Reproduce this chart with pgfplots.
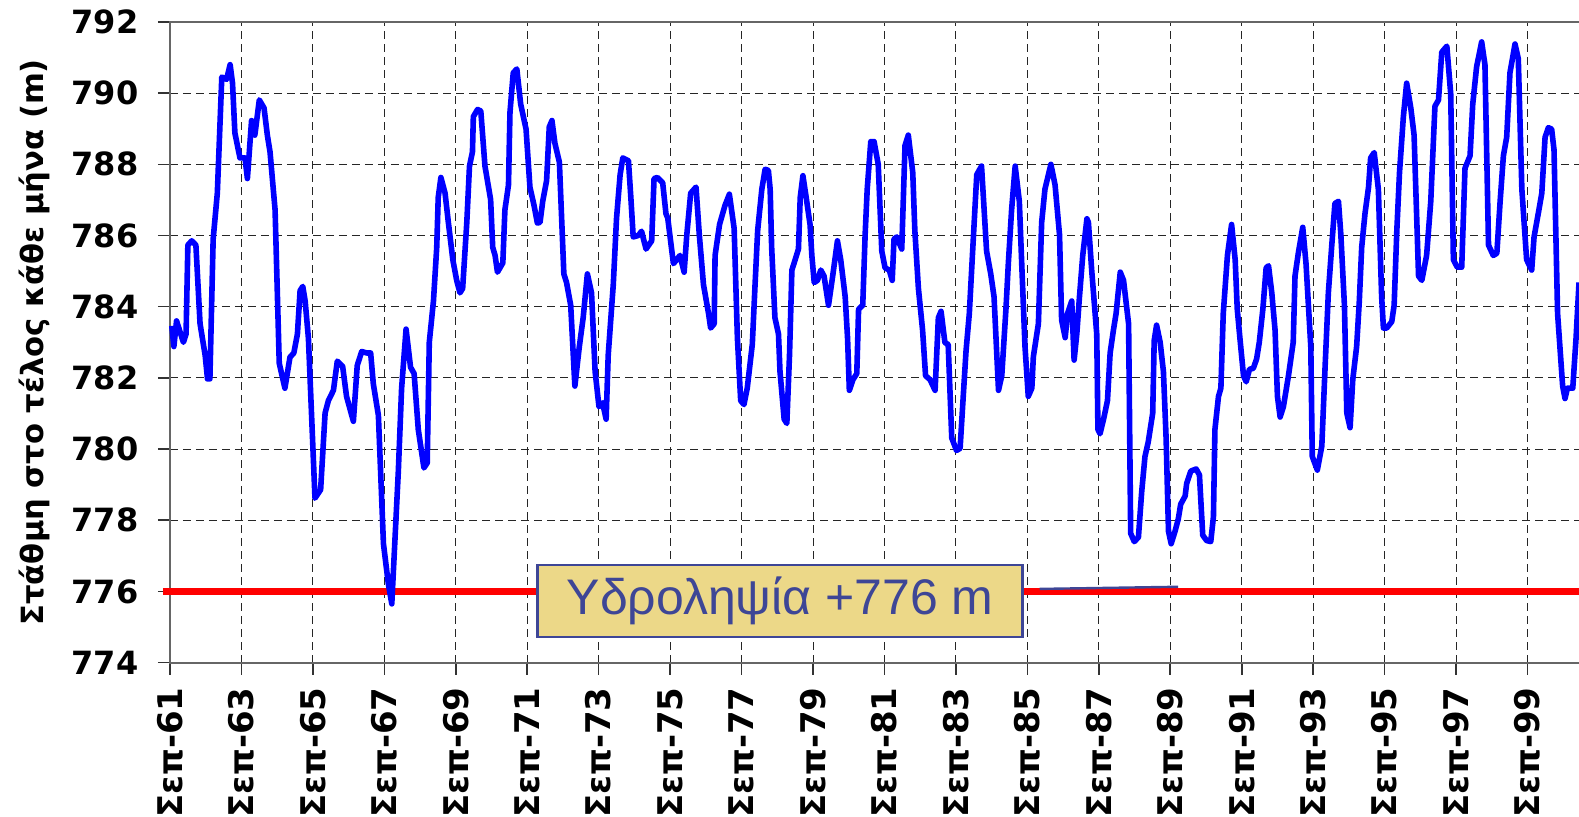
\documentclass[border=0pt]{standalone}
\usepackage{fontspec}
\setmainfont{DejaVu Sans}
\newfontfamily\boxfont{Liberation Sans}
\usepackage{pgfplots}
\usepackage{pgfplotstable}
\pgfplotsset{compat=1.18}
\definecolor{levelblue}{RGB}{0,0,255}
\definecolor{intakered}{RGB}{255,0,0}
\definecolor{boxfill}{RGB}{236,216,136}
\definecolor{boxline}{RGB}{62,70,150}

% month index from Sep-61, level at end of month (m)
\pgfplotstableread{
m v
0.6 783.46
1.3 782.88
2.2 783.60
4.5 783.00
5.4 783.23
6.0 785.73
7.3 785.85
8.7 785.73
10.1 783.52
11.8 782.64
12.6 781.97
13.4 781.97
14.5 785.90
15.9 787.19
17.4 790.45
19.0 790.39
20.2 790.80
21.0 790.28
21.8 788.88
23.5 788.18
25.2 788.18
26.0 787.60
27.4 789.23
28.5 788.82
30.0 789.81
31.6 789.58
32.7 788.82
33.6 788.35
35.3 786.72
36.7 782.41
38.6 781.71
40.3 782.58
41.6 782.70
42.8 783.23
43.7 784.45
44.6 784.57
45.4 784.16
46.5 783.11
48.7 778.62
50.6 778.86
52.1 781.01
53.2 781.36
54.9 781.65
56.2 782.47
58.0 782.32
59.3 781.48
61.6 780.78
62.9 782.35
64.4 782.74
66.1 782.70
67.4 782.70
68.3 781.83
70.0 780.95
71.7 777.34
73.3 776.24
74.5 775.65
76.7 779.38
77.8 781.71
79.3 783.37
80.8 782.30
82.0 782.12
83.4 780.55
85.3 779.47
86.4 779.61
87.1 783.00
88.5 784.16
89.6 785.67
90.1 787.07
91.0 787.63
92.4 787.19
93.5 786.37
95.0 785.32
96.3 784.74
97.4 784.39
98.3 784.51
99.7 786.37
100.6 787.95
101.6 788.35
101.9 789.34
103.3 789.54
104.4 789.50
105.8 787.95
107.7 787.01
108.4 785.67
109.2 785.44
110.0 784.97
111.8 785.23
112.5 786.72
113.7 787.42
114.2 789.46
115.3 790.57
116.5 790.68
117.8 789.69
119.6 788.99
120.9 787.36
122.3 786.84
123.4 786.35
124.3 786.37
125.2 786.96
126.5 787.54
127.4 789.05
128.3 789.23
129.3 788.59
130.8 788.06
132.3 784.92
133.2 784.68
134.6 784.04
136.0 781.77
137.5 782.88
138.8 783.70
140.2 784.92
141.6 784.39
142.8 782.18
144.1 781.19
145.3 781.30
146.5 780.84
147.2 782.64
148.9 784.62
150.0 786.49
151.2 787.71
152.1 788.18
154.0 788.10
154.8 787.07
155.6 785.96
157.3 786.00
158.4 786.12
159.9 785.62
161.8 785.85
162.6 787.60
163.7 787.63
165.5 787.48
166.6 786.61
167.2 786.49
169.1 785.21
170.2 785.32
171.3 785.44
172.7 784.97
173.6 786.02
174.9 787.19
176.7 787.36
177.8 786.02
179.2 784.62
180.9 783.81
181.6 783.40
182.8 783.52
183.1 785.44
184.6 786.31
186.4 786.84
187.9 787.16
189.5 786.20
190.6 783.11
191.7 781.36
192.8 781.25
193.9 781.71
195.6 782.94
196.5 784.57
197.4 786.14
198.8 787.30
199.9 787.86
201.0 787.83
201.6 787.30
202.1 785.67
203.2 783.69
204.4 783.23
204.9 782.18
206.3 780.84
207.2 780.72
208.1 782.64
208.9 785.03
210.0 785.32
211.1 785.62
211.7 787.07
212.6 787.68
213.7 787.07
215.0 786.31
215.6 785.44
216.4 784.68
217.5 784.74
218.6 785.03
219.7 784.86
221.2 784.04
222.6 784.86
224.2 785.85
225.3 785.32
226.8 784.28
227.6 783.11
228.2 781.65
229.4 781.95
230.7 782.12
231.3 783.93
232.7 784.04
233.5 786.02
234.2 787.30
235.4 788.64
236.5 788.64
237.9 788.00
239.1 785.56
240.2 785.09
241.6 785.03
242.6 784.74
243.2 785.90
244.1 785.96
245.8 785.62
246.9 788.53
248.0 788.82
249.5 787.77
250.2 786.14
251.4 784.51
252.8 783.34
253.8 782.06
255.3 781.95
257.0 781.65
258.1 783.69
259.0 783.87
260.3 782.99
261.4 782.94
262.6 780.31
264.2 779.96
265.4 780.02
266.5 781.54
267.4 782.76
268.5 783.81
269.8 785.85
271.0 787.71
272.6 787.95
274.3 785.56
275.7 784.92
276.8 784.28
278.3 781.65
279.4 782.06
280.8 783.93
281.6 785.21
282.7 786.72
283.9 787.95
285.3 786.96
286.1 785.21
287.2 782.88
288.3 781.48
289.5 781.71
290.0 782.59
291.7 783.52
292.8 786.37
293.9 787.30
295.9 788.00
297.3 787.42
298.8 786.02
299.5 783.63
300.7 783.13
301.5 783.81
302.9 784.16
303.7 782.50
304.6 783.23
305.5 784.28
306.6 785.44
308.0 786.47
308.5 786.37
309.6 785.03
311.3 783.23
311.7 780.55
312.4 780.43
313.6 780.84
314.9 781.36
315.8 782.70
316.9 783.34
317.8 783.81
319.2 784.97
320.3 784.74
322.0 783.52
322.7 777.63
323.9 777.40
325.3 777.52
326.4 778.80
327.5 779.79
328.6 780.20
330.1 781.01
330.6 783.05
331.4 783.48
332.6 783.00
333.7 782.18
334.6 780.31
335.4 777.69
336.3 777.34
337.6 777.69
338.7 778.04
339.5 778.45
341.0 778.68
341.5 779.03
342.9 779.38
344.7 779.44
345.8 779.27
346.9 777.58
348.2 777.43
349.6 777.40
350.5 778.10
351.0 780.55
352.2 781.48
353.0 781.71
353.8 783.81
355.2 785.44
356.6 786.31
357.8 785.32
358.5 783.93
359.4 783.11
360.6 782.06
361.5 781.89
362.6 782.24
363.9 782.27
365.0 782.53
365.9 783.00
367.1 783.93
368.2 785.09
369.0 785.15
370.1 784.39
371.2 783.34
372.0 781.48
372.9 780.90
374.0 781.19
375.7 782.06
377.3 783.00
377.9 784.86
379.0 785.50
380.5 786.23
381.6 785.21
383.2 782.88
383.7 779.79
385.4 779.41
386.9 780.08
388.0 782.30
389.1 784.39
390.2 785.67
391.3 786.90
392.5 786.96
393.3 786.02
394.5 784.04
395.3 781.01
396.4 780.60
397.3 781.95
398.6 782.88
399.5 784.16
400.3 785.67
401.4 786.61
402.6 787.36
403.3 788.18
404.5 788.33
405.9 787.30
407.0 784.28
407.6 783.40
408.7 783.40
410.4 783.58
411.2 784.04
412.1 786.14
413.0 787.77
414.3 789.34
415.4 790.28
416.8 789.58
417.9 788.82
419.4 784.86
420.5 784.74
422.1 785.44
423.5 786.96
424.9 789.63
426.1 789.81
427.2 791.15
428.9 791.32
430.2 789.98
431.1 785.32
432.4 785.11
433.9 785.11
435.0 787.89
436.7 788.24
437.6 789.69
438.9 790.74
440.6 791.44
441.7 790.80
442.9 785.73
444.5 785.44
445.7 785.50
446.8 786.96
447.9 788.24
449.0 788.76
450.1 790.57
451.8 791.38
452.9 790.97
454.1 787.30
455.7 785.32
457.4 785.03
458.2 785.96
459.7 786.66
460.8 787.19
461.9 788.76
463.0 789.03
464.1 788.99
464.9 788.41
466.1 783.81
467.8 781.77
468.6 781.42
469.4 781.71
471.2 781.71
472.3 783.11
473.3 784.68
}\levels

\begin{document}
\begin{tikzpicture}
\begin{axis}[
  x=1.4885pt, y=17.795pt,
  xmin=0, xmax=474, ymin=774, ymax=792,
  xtick={0,24,...,456},
  xticklabels={Σεπ-61,Σεπ-63,Σεπ-65,Σεπ-67,Σεπ-69,Σεπ-71,Σεπ-73,Σεπ-75,Σεπ-77,Σεπ-79,
               Σεπ-81,Σεπ-83,Σεπ-85,Σεπ-87,Σεπ-89,Σεπ-91,Σεπ-93,Σεπ-95,Σεπ-97,Σεπ-99},
  ytick={774,776,...,792},
  xtick pos=bottom, ytick pos=left,
  tick align=outside, major tick length=6pt,
  tick style={black!80, line width=0.8pt},
  grid=major,
  grid style={black!85, line width=0.5pt, dash pattern=on 4pt off 2.5pt},
  axis line style={black!60, line width=1pt},
  /pgf/number format/assume math mode=true,
  /pgf/number format/1000 sep={},
  ticklabel style={font=\fontsize{16pt}{19pt}\selectfont\bfseries, inner sep=0pt},
  xticklabel style={rotate=90, anchor=east, font=\fontsize{17pt}{20pt}\selectfont\bfseries},
  yticklabel style={anchor=east},
  xticklabel shift=6.2pt,
  yticklabel shift=9.6pt,
  ylabel={Στάθμη στο τέλος κάθε μήνα (m)},
  ylabel style={font=\fontsize{15.3pt}{18pt}\selectfont\bfseries,
    at={(axis description cs:-0.0957,0.5)}, anchor=center},
  clip=false,
]
\addplot[intakered, line width=3.5pt, forget plot] coordinates {(-2.4,776) (480,776)};
\addplot[levelblue, line width=2.8pt, line join=round, mark=none] table[x=m, y=v] {\levels};
\addplot[boxline, line width=1.2pt, forget plot] coordinates {(292.1,776.07) (338.6,776.13)};
\node[draw=boxline, line width=1.3pt, fill=boxfill, minimum width=242.5pt,
  minimum height=36pt, inner sep=0pt, text=boxline,
  font=\boxfont\fontsize{25pt}{29pt}\selectfont] at (axis cs:204.97,775.73) {Υδροληψία +776 m};
\coordinate (O) at (axis cs:0,774);
\end{axis}
\pgfresetboundingbox
\path[use as bounding box] (O) ++(-85pt,-77.2pt) rectangle ++(789.5pt,408.5pt);
\end{tikzpicture}
\end{document}
